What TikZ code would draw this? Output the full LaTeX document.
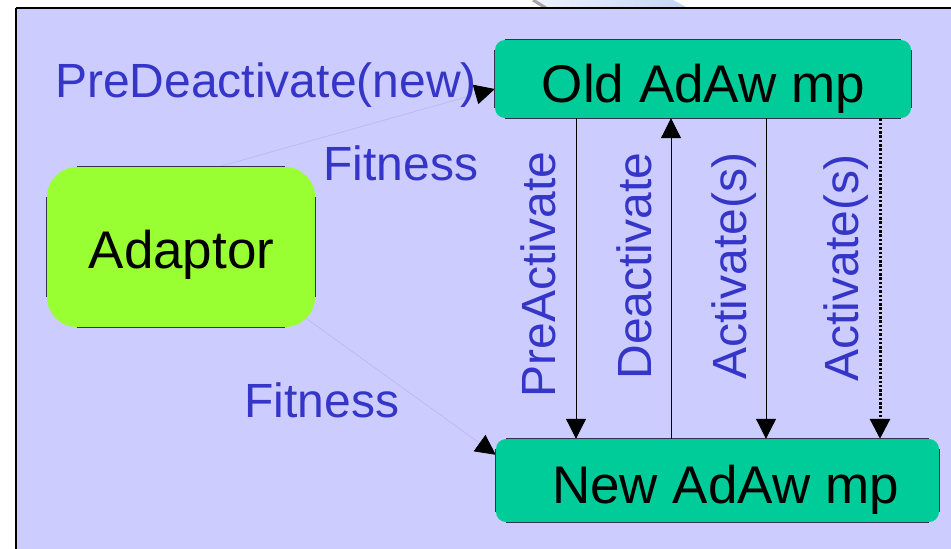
\documentclass[tikz,border=0pt]{standalone}
\usepackage{fontspec}
\setmainfont{Liberation Sans}
\usetikzlibrary{arrows.meta}

\definecolor{panelbg}{HTML}{CCCCFF}
\definecolor{labelblue}{HTML}{3535C8}
\definecolor{mpgreen}{HTML}{00CC99}
\definecolor{adaptgreen}{HTML}{99FF33}
\definecolor{edgedark}{HTML}{33334D}
\definecolor{faintline}{HTML}{BCBCEC}
\definecolor{decoblue}{HTML}{C4D4F6}

\tikzset{
  bluelbl/.style={font=\fontsize{48}{58}\selectfont, text=labelblue, inner sep=0pt},
  blacklbl/.style={font=\fontsize{53}{64}\selectfont, text=black, inner sep=0pt},
  mpbox/.style={fill=mpgreen, rounded corners=10pt, minimum width=#1, inner sep=0pt},
  adaptbox/.style={fill=adaptgreen, rounded corners=30pt, inner sep=0pt},
  boxedge/.style={draw=edgedark, line width=1pt},
  flow/.style={line width=1pt, draw=black, -{Triangle[length=20pt,width=20pt]}},
  dotflow/.style={line width=3pt, draw=black, dash pattern=on 2.5pt off 1.8pt,
                  -{Triangle[length=20pt,width=20pt]}},
  fitflow/.style={line width=0.8pt, draw=faintline, -{Triangle[length=20pt,width=20pt,color=black]}},
}

\begin{document}
\begin{tikzpicture}[x=1pt, y=-1pt]
  \useasboundingbox (0,0) rectangle (951,549);

  % page background and frame
  \fill[white] (0,0) rectangle (951,549);
  \shade[left color=white!70!decoblue, right color=decoblue]
    (533,0) -- (547,8) -- (688,8) -- (673,0) -- cycle;
  \draw[gray!70, line width=3pt] (533,0) -- (546,8);
  \fill[panelbg] (16,8) rectangle (951,549);
  \draw[black, line width=2pt] (16,8) -- (951,8);
  \draw[black, line width=2pt] (16,8) -- (16,549);

  % the two AdAw mp boxes
  \node[mpbox=416pt, minimum height=78pt] (old) at (703,79) {};
  \node[mpbox=443pt, minimum height=83pt] (new) at (717.5,480.5) {};

  % fitness connectors start behind the adaptor, so they are drawn first
  \coordinate (fitsrcA) at (200,172);
  \coordinate (fitsrcB) at (250,278);
  \draw[fitflow] (fitsrcA) -- ([yshift=-10pt]old.west);
  \draw[fitflow] (fitsrcB) -- ([yshift=-16pt]new.north west);

  \node[adaptbox, minimum width=268pt, minimum height=160pt] (adaptor) at (181,247) {};

  % straight outline segments of the boxes
  \foreach \b/\r in {old/10, new/10, adaptor/30} {
    \draw[boxedge] ([xshift=\r pt]\b.north west) -- ([xshift=-\r pt]\b.north east);
    \draw[boxedge] ([xshift=\r pt]\b.south west) -- ([xshift=-\r pt]\b.south east);
    \draw[boxedge] ([yshift=-\r pt]\b.north west) -- ([yshift=\r pt]\b.south west);
    \draw[boxedge] ([yshift=-\r pt]\b.north east) -- ([yshift=\r pt]\b.south east);
  }

  % box labels
  \node[blacklbl, anchor=base] (oldtxt) at (703.5,102) {Old AdAw mp};
  \node[blacklbl, anchor=base] (newtxt) at (725.5,503) {New AdAw mp};
  \node[blacklbl, anchor=base] (adapttxt) at (181.5,268) {Adaptor};

  % message columns between the two boxes
  \coordinate (col1) at (576,0);
  \coordinate (col2) at (671,0);
  \coordinate (col3) at (766,0);
  \coordinate (col4) at (880,0);
  \draw[flow] (old.south -| col1) -- (new.north -| col1);
  \draw[flow] (new.north -| col2) -- (old.south -| col2);
  \draw[flow] (old.south -| col3) -- (new.north -| col3);
  \draw[dotflow] (old.south -| col4) -- (new.north -| col4);

  % message labels
  \node[bluelbl, anchor=base] (predeact) at (266,97) {PreDeactivate(new)};
  \node[bluelbl, anchor=base] (fitA) at (401,180) {Fitness};
  \node[bluelbl, anchor=base] (fitB) at (322,417) {Fitness};
  \node[bluelbl, anchor=base, rotate=90] (preact) at (555,274.5) {PreActivate};
  \node[bluelbl, anchor=base, rotate=90] (deact) at (651,266) {Deactivate};
  \node[bluelbl, anchor=base, rotate=90] (actA) at (746,266) {Activate(s)};
  \node[bluelbl, anchor=base, rotate=90] (actB) at (858,268) {Activate(s)};
\end{tikzpicture}
\end{document}
